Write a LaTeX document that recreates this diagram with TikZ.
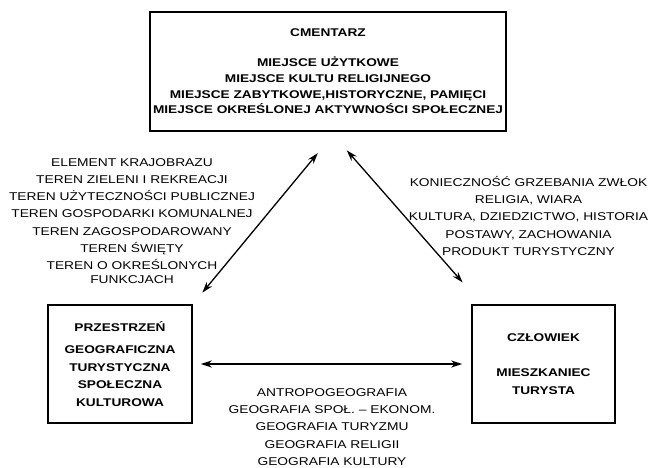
\documentclass[tikz,border=0pt]{standalone}
\usepackage{fontspec}
\setmainfont{Liberation Sans}[FakeStretch=1.22]
\usetikzlibrary{arrows.meta}
\begin{document}
\begin{tikzpicture}[x=1pt,y=-1pt,
  box/.style={draw,line width=1.6pt,align=center,inner sep=0pt,font=\bfseries\fontsize{11.2}{17.5}\selectfont},
  lbl/.style={align=center,inner sep=0pt,font=\fontsize{11.3}{17.3}\selectfont},
  biarrow/.style={{Stealth[length=11pt,width=7pt]}-{Stealth[length=11pt,width=7pt]},line width=1.3pt}]
\useasboundingbox (0,0) rectangle (651,467);
\node [box,line width=2.6pt,minimum width=356pt,minimum height=119pt,font=\bfseries\fontsize{11.2}{15.7}\selectfont] (cmentarz) at (328,71.5)
  {CMENTARZ\\[14pt] MIEJSCE UŻYTKOWE\\ MIEJSCE KULTU RELIGIJNEGO\\ MIEJSCE ZABYTKOWE,HISTORYCZNE, PAMIĘCI\\ MIEJSCE OKREŚLONEJ AKTYWNOŚCI SPOŁECZNEJ};
\node [box,minimum width=144pt,minimum height=118pt] (przestrzen) at (120,364)
  {PRZESTRZEŃ\\[4.5pt] GEOGRAFICZNA\\ TURYSTYCZNA\\ SPOŁECZNA\\ KULTUROWA};
\node [box,minimum width=143pt,minimum height=118pt] (czlowiek) at (543.5,364)
  {CZŁOWIEK\\[17.5pt] MIESZKANIEC\\ TURYSTA};

\draw [biarrow,shorten <=27pt,shorten >=15pt] ([xshift=7pt]cmentarz.south) -- (przestrzen.north east);
\draw [biarrow,shorten <=24pt,shorten >=13pt] ([xshift=3pt]cmentarz.south) -- ([yshift=12pt]czlowiek.north west);
\draw [biarrow,shorten <=8pt,shorten >=9pt] (przestrzen.east) -- (czlowiek.west);

\node [lbl,anchor=north] (funkcje) at (132,158)
  {ELEMENT KRAJOBRAZU\\ TEREN ZIELENI I REKREACJI\\ TEREN UŻYTECZNOŚCI PUBLICZNEJ\\ TEREN GOSPODARKI KOMUNALNEJ\\
   TEREN ZAGOSPODAROWANY\\ TEREN ŚWIĘTY\\ TEREN O OKREŚLONYCH\\[-3.5pt] FUNKCJACH};
\node [lbl,anchor=north] (potrzeby) at (528.5,176)
  {KONIECZNOŚĆ GRZEBANIA ZWŁOK\\ RELIGIA, WIARA\\ KULTURA, DZIEDZICTWO, HISTORIA\\ POSTAWY, ZACHOWANIA\\ PRODUKT TURYSTYCZNY};
\node [lbl,anchor=north] (nauki) at (332,388)
  {ANTROPOGEOGRAFIA\\ GEOGRAFIA SPOŁ. – EKONOM.\\ GEOGRAFIA TURYZMU\\ GEOGRAFIA RELIGII\\ GEOGRAFIA KULTURY};
\end{tikzpicture}
\end{document}
